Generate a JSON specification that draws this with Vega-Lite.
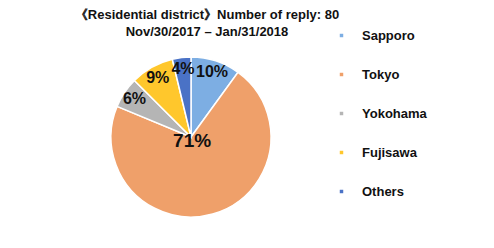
{
  "$schema": "https://vega.github.io/schema/vega-lite/v6.json",
  "width": 200,
  "height": 200,
  "autosize": {"type": "none"},
  "padding": {"left": 91, "top": 37, "right": 203, "bottom": 11},
  "background": "white",
  "config": {"view": {"stroke": null}},
  "title": {
    "text": ["《Residential district》Number of reply: 80", "Nov/30/2017 – Jan/31/2018"],
    "anchor": "middle",
    "dx": 16,
    "offset": -10,
    "font": "Liberation Sans",
    "fontSize": 13,
    "fontWeight": "bold",
    "color": "#111111",
    "lineHeight": 17
  },
  "data": {
    "values": [
      {"district": "Sapporo", "count": 8, "label": "10%", "order": 1},
      {"district": "Tokyo", "count": 57, "label": "71%", "order": 2},
      {"district": "Yokohama", "count": 5, "label": "6%", "order": 3},
      {"district": "Fujisawa", "count": 7, "label": "9%", "order": 4},
      {"district": "Others", "count": 3, "label": "4%", "order": 5}
    ]
  },
  "encoding": {
    "theta": {"field": "count", "type": "quantitative", "stack": true},
    "order": {"field": "order", "type": "quantitative"}
  },
  "layer": [
    {
      "mark": {"type": "arc", "outerRadius": 80, "stroke": "white", "strokeWidth": 1.5},
      "encoding": {
        "color": {
          "field": "district",
          "type": "nominal",
          "scale": {
            "domain": ["Sapporo", "Tokyo", "Yokohama", "Fujisawa", "Others"],
            "range": ["#7DAEE3", "#EFA06A", "#B5B5B5", "#FFC72C", "#4A72C6"]
          },
          "legend": {
            "orient": "none",
            "legendX": 244,
            "legendY": -8,
            "title": null,
            "symbolType": "square",
            "symbolSize": 12,
            "symbolStrokeWidth": 0,
            "labelFont": "Liberation Sans",
            "labelFontSize": 13,
            "labelFontWeight": "bold",
            "labelColor": "#111111",
            "labelOffset": 14,
            "rowPadding": 25
          }
        }
      }
    },
    {
      "mark": {"type": "text", "radius": 4, "font": "Liberation Sans", "fontSize": 19, "fontWeight": "bold", "color": "#111111"},
      "encoding": {
        "text": {"condition": {"test": "datum.district == 'Tokyo'", "field": "label"}, "value": ""}
      }
    },
    {
      "mark": {"type": "text", "radius": 68, "font": "Liberation Sans", "fontSize": 16, "fontWeight": "bold", "color": "#111111"},
      "encoding": {
        "text": {"condition": {"test": "datum.district != 'Tokyo'", "field": "label"}, "value": ""}
      }
    }
  ]
}
